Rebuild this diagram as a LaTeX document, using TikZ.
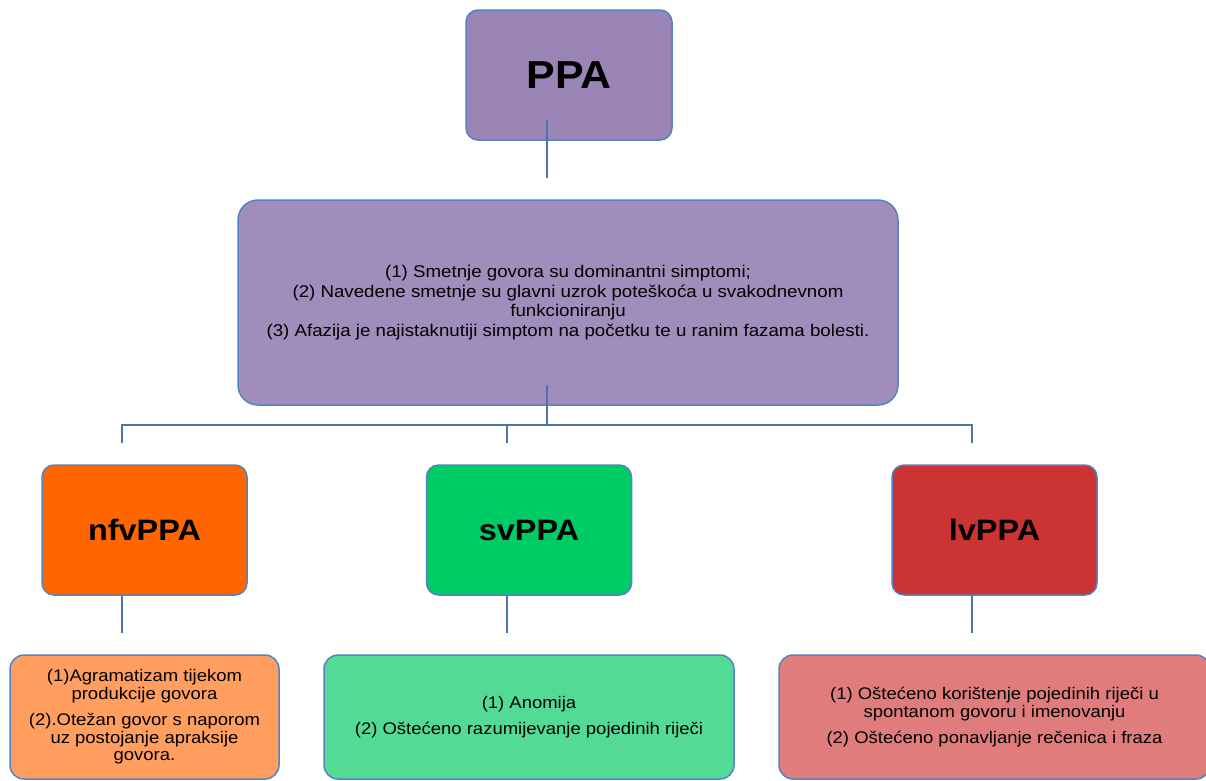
\documentclass[tikz,border=0pt]{standalone}
\usepackage{fontspec}
\setmainfont{Liberation Sans}[FakeStretch=1.1]
\usepackage{xcolor}
\usetikzlibrary{positioning}
\definecolor{ppapurple}{RGB}{155,133,183}
\definecolor{sympurple}{RGB}{161,141,187}
\definecolor{boxblue}{RGB}{84,130,196}
\definecolor{linkblue}{RGB}{79,115,173}
\definecolor{nfvorange}{RGB}{255,102,0}
\definecolor{svgreen}{RGB}{0,204,102}
\definecolor{lvred}{RGB}{204,51,51}
\definecolor{nfvlight}{RGB}{255,158,94}
\definecolor{svlight}{RGB}{83,219,150}
\definecolor{lvlight}{RGB}{224,124,124}
\tikzset{
    tnode/.style = {align=center, inner sep=0pt, text centered, rounded corners=12pt, draw=boxblue, line width=1.5pt},
    top_node/.style = {tnode, fill=ppapurple, minimum width=206pt, minimum height=130pt, font=\fontsize{39}{43}\selectfont\bfseries},
    sym_node/.style = {tnode, fill=sympurple, minimum width=660pt, minimum height=205pt, rounded corners=20pt, font=\fontsize{17}{19.5}\selectfont},
    type_node/.style = {tnode, minimum width=205pt, minimum height=130pt, font=\fontsize{29.5}{32}\selectfont\bfseries},
    desc_node/.style = {tnode, minimum height=124pt, rounded corners=14pt, font=\fontsize{16.8}{17.8}\selectfont},
    link/.style = {draw=linkblue, line width=1.3pt}
}

\begin{document}
\begin{tikzpicture}[x=1pt, y=-1pt]
    \useasboundingbox (0,0) rectangle (1206,780);
    % top and summary
    \node [top_node] (ppa) at (569,75) {PPA};
    \node [sym_node] (sym) at (568,302.5) {(1) Smetnje govora su dominantni simptomi;\\
        (2) Navedene smetnje su glavni uzrok poteškoća u svakodnevnom\\
        funkcioniranju\\
        (3) Afazija je najistaknutiji simptom na početku te u ranim fazama bolesti.};
    % variants
    \node [type_node, fill=nfvorange] (nfv) at (144.5,530) {nfvPPA};
    \node [type_node, fill=svgreen] (sv) at (529,530) {svPPA};
    \node [type_node, fill=lvred] (lv) at (994.5,530) {lvPPA};
    % descriptions
    \node [desc_node, fill=nfvlight, minimum width=269pt] (nfv_desc) at (144.5,717)
        {(1)Agramatizam tijekom\\ produkcije govora\\[8pt]
         (2).Otežan govor s naporom\\ uz postojanje apraksije\\ govora.};
    \node [desc_node, fill=svlight, minimum width=410pt] (sv_desc) at (529,717)
        {(1) Anomija\\[8pt] (2) Oštećeno razumijevanje pojedinih riječi};
    \node [desc_node, fill=lvlight, minimum width=431pt] (lv_desc) at (994.5,717)
        {(1) Oštećeno korištenje pojedinih riječi u\\ spontanom govoru i imenovanju\\[8pt]
         (2) Oštećeno ponavljanje rečenica i fraza};
    % connectors
    \coordinate (ppa_out) at (547,120);
    \coordinate (sym_in) at (547,178);
    \coordinate (sym_out) at (547,385);
    \coordinate (bar) at (547,425);
    \draw [link] (ppa_out) -- (sym_in);
    \draw [link] (sym_out) -- (bar);
    \foreach \name/\x in {nfv/122, sv/507, lv/972} {
        \coordinate (\name_in) at (\x,443);
        \coordinate (\name_out) at (\x,595);
        \coordinate (\name_end) at (\x,633);
        \draw [link] (\name_in) |- (bar);
        \draw [link] (\name_out) -- (\name_end);
    }
\end{tikzpicture}
\end{document}
